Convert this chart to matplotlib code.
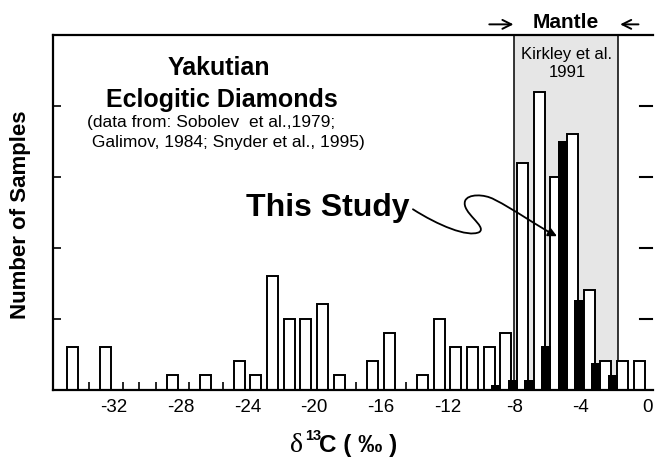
#se importa numpy como np
import numpy as np
#se importa matplotlib para graficar
import matplotlib.pyplot as plt
from matplotlib.path import Path
from matplotlib.patches import FancyArrowPatch

#datos de Yakutia (barras blancas): centro de cada clase y numero de muestras
xYak = [-34.5, -32.5, -28.5, -26.5, -24.5, -23.5, -22.5, -21.5, -20.5, -19.5,
        -18.5, -16.5, -15.5, -13.5, -12.5, -11.5, -10.5, -9.5, -8.5, -7.5,
        -6.5, -5.5, -4.5, -3.5, -2.5, -1.5, -0.5]
nYak = [3, 3, 1, 1, 2, 1, 8, 5, 5, 6,
        1, 2, 4, 1, 5, 3, 3, 3, 4, 16,
        21, 15, 18, 7, 2, 2, 2]
#datos de este estudio (barras negras)
xEst = [-9.1, -8.1, -7.1, -6.1, -5.1, -4.1, -3.1, -2.1]
nEst = [0.35, 0.7, 0.7, 3.05, 17.5, 6.3, 1.9, 1.0]
#etiquetas del eje x
ticksX = [-32, -28, -24, -20, -16, -12, -8, -4, 0]
#marcas del eje y (sin numeros)
ticksY = [5, 10, 15, 20]
#rango del manto segun Kirkley et al. 1991
manto = [-8.0, -1.76]

plt.rcParams['font.family'] = ['Liberation Sans', 'DejaVu Sans']
plt.rcParams['axes.unicode_minus'] = False

fig = plt.figure(figsize=(6.55, 4.63), dpi=100)
ax = fig.add_axes([53/655, 73.5/463, 600/655, 354.5/463])

#se dibuja la zona del manto
ax.axvspan(manto[0], manto[1], facecolor='#e6e6e6', edgecolor='black', lw=1.1, zorder=0)
#se dibujan las barras
ax.bar(xYak, nYak, width=0.66, facecolor='white', edgecolor='black', lw=1.4, zorder=2)
ax.bar(xEst, nEst, width=0.6, color='black', zorder=3)

ax.set_xlim(-35.67, 0.32)
ax.set_ylim(0, 25)
for s in ax.spines.values():
    s.set_linewidth(1.6)
ax.spines['right'].set_visible(False)

#ejes y marcas
ax.set_xticks(ticksX)
ax.set_xticklabels([str(t) for t in ticksX])
ax.set_xticks(np.arange(-34.5, 0, 1), minor=True)
ax.tick_params(axis='x', which='major', length=0, labelsize=13.5, pad=7)
ax.tick_params(axis='x', which='minor', direction='in', length=6, width=1.2)
ax.set_yticks(ticksY)
ax.tick_params(axis='y', direction='in', length=5.5, width=1.2, labelleft=False)
#marcas del lado derecho
for yt in ticksY:
    ax.plot([0.978, 0.998], [yt, yt], transform=ax.get_yaxis_transform(),
            color='black', lw=1.5, clip_on=False, zorder=6)

ax.set_ylabel('Number of Samples', fontsize=16, fontweight='bold')
ax.yaxis.set_label_coords(-0.037, 0.492)

#etiqueta del eje x por partes
fig.text(290/655, 11/463, 'δ', fontsize=20, family=['Liberation Serif', 'DejaVu Serif'], va='baseline')
fig.text(305/655, 23/463, '13', fontsize=10.5, fontweight='bold', va='baseline')
fig.text(319/655, 11/463, 'C ( ‰ )', fontsize=17.5, fontweight='bold', va='baseline')

#textos
ax.text(-25.72, 22.64, 'Yakutian', fontsize=18, fontweight='bold', ha='center', va='center')
ax.text(-25.54, 20.39, 'Eclogitic Diamonds', fontsize=18, fontweight='bold', ha='center', va='center')
ax.text(-33.65, 18.86, '(data from: Sobolev  et al.,1979;', fontsize=12.5, ha='left', va='center')
ax.text(-33.65, 17.45, ' Galimov, 1984; Snyder et al., 1995)', fontsize=12.5, ha='left', va='center')
ax.text(-4.84, 23.0, 'Kirkley et al.\n1991', fontsize=12, ha='center', va='center', linespacing=1.25)
ax.text(-19.2, 12.8, 'This Study', fontsize=23, fontweight='bold', ha='center', va='center')

#flecha curva de "This Study"
pts = [(-14.08, 12.71),
       (-12.6, 11.6), (-10.8, 10.7), (-10.1, 11.1),
       (-9.6, 11.5), (-11.2, 12.5), (-10.95, 13.3),
       (-10.8, 13.8), (-9.8, 13.8), (-9.2, 13.4),
       (-8.0, 12.7), (-6.6, 11.5), (-5.44, 10.81)]
cod = [Path.MOVETO] + [Path.CURVE4] * 12
flecha = FancyArrowPatch(path=Path(pts, cod), arrowstyle='-|>', mutation_scale=13,
                         lw=1.3, color='black', zorder=5)
ax.add_patch(flecha)

#titulo del manto con flechas
ax.text(-4.9, 1.034, 'Mantle', fontsize=15, fontweight='bold', ha='center', va='center',
        transform=ax.get_xaxis_transform(), clip_on=False)
ax.annotate('', xy=(-8.05, 1.03), xytext=(-9.5, 1.03), xycoords=ax.get_xaxis_transform(),
            arrowprops=dict(arrowstyle='->', lw=1.4, color='black', mutation_scale=16,
                            shrinkA=0, shrinkB=0))
ax.annotate('', xy=(-1.65, 1.03), xytext=(-0.55, 1.03), xycoords=ax.get_xaxis_transform(),
            arrowprops=dict(arrowstyle='->', lw=1.4, color='black', mutation_scale=16,
                            shrinkA=0, shrinkB=0))

fig.savefig('out.png', dpi=100)
